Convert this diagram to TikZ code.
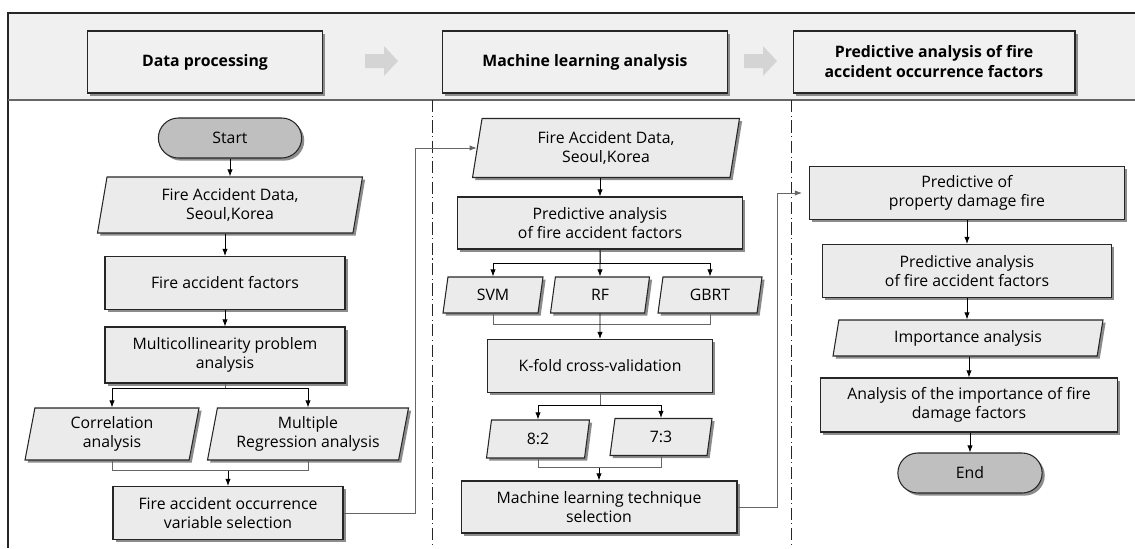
\documentclass[tikz,border=0pt]{standalone}
\usepackage{fontspec}
\setmainfont{Open Sans}
\usetikzlibrary{arrows.meta,calc,shapes.geometric,shapes.misc}
\tikzset{>={Latex[length=4pt,width=3pt]}}
\colorlet{boxfill}{black!8}
\colorlet{bandfill}{black!6}

\begin{document}
\begin{tikzpicture}[x=0.02cm,y=-0.02cm,
  font=\fontsize{9}{10.8}\selectfont,
  boxshadow/.style={preaction={fill=black!45,draw=none,
    transform canvas={shift={(1.5pt,-1.5pt)}}}},
  procbox/.style={rectangle,draw=black!85,line width=0.6pt,fill=boxfill,
    align=center,minimum height=1.06cm,boxshadow},
  iobox/.style={trapezium,trapezium left angle=78,trapezium right angle=102,
    trapezium stretches body,draw=black!85,line width=0.6pt,fill=boxfill,
    align=center,boxshadow},
  termbox/.style={rounded rectangle,draw=black!85,line width=0.6pt,fill=black!25,
    minimum height=0.8cm,boxshadow},
  headbox/.style={rectangle,draw=black!85,line width=0.6pt,fill=bandfill,
    font=\fontsize{9}{11.4}\selectfont\bfseries,align=center,minimum height=1.24cm,boxshadow},
  divider/.style={black!85,line width=0.5pt,dash pattern=on 7pt off 2pt on 0.6pt off 2pt},
  flow/.style={->,black,line width=0.5pt},
  merge/.style={black!60,line width=0.5pt}]
  \useasboundingbox (0,0) rectangle (1135,548);
  % frame and header band
  \fill[bandfill] (8,13) rectangle (1135,100);
  \draw[black!85,line width=0.7pt] (1135,13) -- (8,13) -- (8,548);
  \draw[black!60,line width=0.6pt] (8,100) -- (1135,100);
  \draw[divider] (432,100) -- (432,548);
  \draw[divider] (791,100) -- (791,548);
  % header
  \node[headbox,minimum width=4.7cm]  (hdata) at (205,62) {Data processing};
  \node[headbox,minimum width=5.7cm]  (hml)   at (585,62) {Machine learning analysis};
  \node[headbox,minimum width=5.64cm] (hpred) at (934,62) {Predictive analysis of fire\\accident occurrence factors};
  \foreach \ax in {365,744}
    \fill[black!17] (\ax,54) -- ++(19,0) -- ++(0,-8) -- ++(14,15) -- ++(-14,15) -- ++(0,-8) -- ++(-19,0) -- cycle;

  % data processing
  \node[termbox,minimum width=3.1cm] (start) at (230,138) {Start};
  \node[iobox,minimum width=5.3cm,minimum height=1.12cm] (data1) at (230,205) {Fire Accident Data,\\Seoul,Korea};
  \node[procbox,minimum width=4.8cm] (fact) at (225,283) {Fire accident factors};
  \node[procbox,minimum width=4.8cm,minimum height=1.12cm] (multi) at (225,355) {Multicollinearity problem\\analysis};
  \node[iobox,minimum width=3.48cm,minimum height=1.04cm] (corr) at (112,434) {Correlation\\analysis};
  \node[iobox,minimum width=4.02cm,minimum height=1.04cm] (mreg) at (308,434) {Multiple\\Regression analysis};
  \node[procbox,minimum width=4.6cm] (varsel) at (228,513) {Fire accident occurrence\\variable selection};

  \draw[flow] (start.south -| data1.north) -- (data1.north);
  \draw[flow] (data1.south -| fact.north) -- (fact.north);
  \draw[flow] (fact) -- (multi);
  \draw[merge] (multi.south) -- ++(0,5) coordinate (b1);
  \draw[flow] (b1) -| (corr.north);
  \draw[flow] (b1) -| (mreg.north);
  \draw[merge] (corr.south) -- ++(0,10) coordinate (j1) -| (mreg.south);
  \draw[flow] (j1 -| varsel.north) -- (varsel.north);

  % machine learning
  \node[iobox,minimum width=5.34cm,minimum height=1.18cm] (data2) at (606,148) {Fire Accident Data,\\Seoul,Korea};
  \node[procbox,minimum width=5.7cm,minimum height=1.04cm] (pred) at (600,223) {Predictive analysis\\of fire accident factors};
  \node[iobox,minimum width=2.0cm,minimum height=0.72cm]  (svm)  at (493,295) {SVM};
  \node[iobox,minimum width=1.98cm,minimum height=0.72cm] (rf)   at (600,295) {RF};
  \node[iobox,minimum width=2.08cm,minimum height=0.72cm] (gbrt) at (710,295) {GBRT};
  \node[procbox,minimum width=4.5cm] (kfold) at (600,366) {K-fold cross-validation};
  \node[iobox,minimum width=2.06cm,minimum height=0.76cm] (r82) at (538,439) {8:2};
  \node[iobox,minimum width=2.04cm,minimum height=0.74cm] (r73) at (661,437) {7:3};
  \node[procbox,minimum width=5.52cm,minimum height=1.04cm] (mlsel) at (599,507) {Machine learning technique\\selection};

  \coordinate (c1) at (415,513);
  \draw[flow,black!60] (varsel.east) -- (c1) |- (data2.west);
  \draw[flow] (data2.south -| pred.north) -- (pred.north);
  \draw[merge] (pred.south) -- ++(0,14) coordinate (b2);
  \draw[flow] (b2) -| (svm.north);
  \draw[flow] (b2) -| (gbrt.north);
  \draw[flow] (pred.south) -- (rf.north);
  \draw[merge] (svm.south) -- ++(0,11) coordinate (j2) -| (gbrt.south);
  \draw[flow] (rf.south) -- (kfold.north);
  \draw[merge] (kfold.south) -- ++(0,12) coordinate (b3);
  \draw[flow] (b3) -| (r82.north);
  \draw[flow] (b3) -| (r73.north);
  \draw[merge] (r82.south) -- ++(0,9) coordinate (j3) -| (r73.south);
  \draw[flow] (j3 -| mlsel.north) -- (mlsel.north);

  % prediction
  \node[procbox,minimum width=6.3cm]  (prop)  at (967,193) {Predictive of\\property damage fire};
  \node[procbox,minimum width=5.78cm] (pred2) at (967,271) {Predictive analysis\\of fire accident factors};
  \node[iobox,minimum width=5.4cm,minimum height=0.72cm] (imp) at (968,338) {Importance analysis};
  \node[procbox,minimum width=5.94cm,minimum height=1.08cm] (impf) at (969,405) {Analysis of the importance of fire\\damage factors};
  \node[termbox,minimum width=3.12cm] (fin) at (970,473) {End};

  \coordinate (c2) at (777,507);
  \draw[flow,black!60,shorten >=4pt] (mlsel.east) -- (c2) |- (prop.west);
  \draw[flow] (prop) -- (pred2);
  \draw[flow] (pred2.south) -- (pred2.south |- imp.north);
  \draw[flow] (imp.south -| impf.north) -- (impf.north);
  \draw[flow] (impf.south -| fin.north) -- (fin.north);
\end{tikzpicture}
\end{document}
